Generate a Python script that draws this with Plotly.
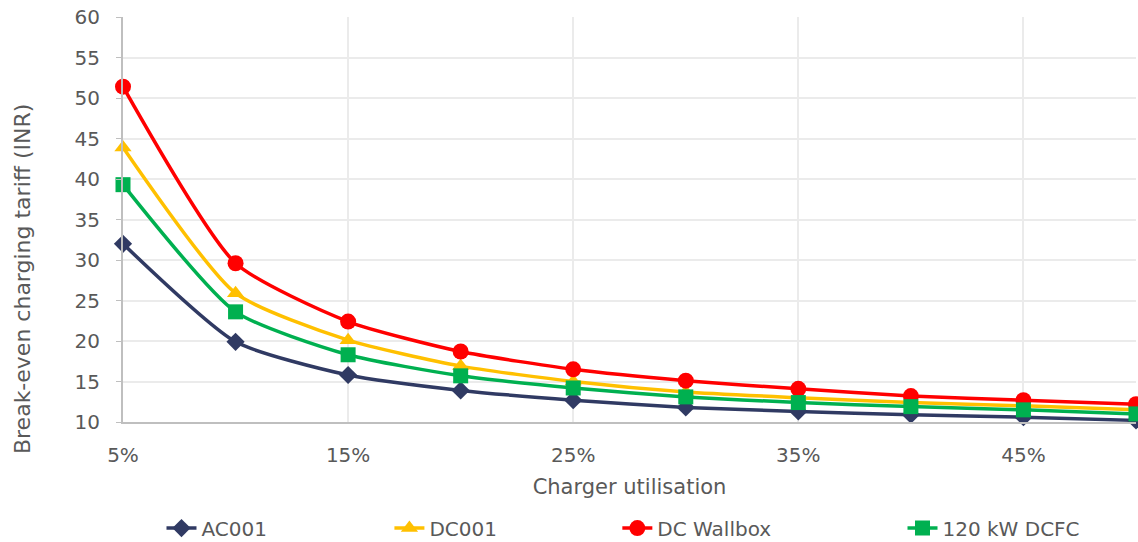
import plotly.graph_objects as go

# Charger utilisation (%) and break-even charging tariff (INR) per charger type
utilisation = [5, 10, 15, 20, 25, 30, 35, 40, 45, 50]
ac001 = [32.0, 19.9, 15.8, 13.9, 12.7, 11.8, 11.3, 10.9, 10.6, 10.2]
dc001 = [43.9, 25.9, 20.1, 16.9, 15.0, 13.7, 13.0, 12.4, 12.0, 11.5]
dc_wallbox = [51.4, 29.6, 22.4, 18.7, 16.5, 15.1, 14.1, 13.2, 12.7, 12.2]
dcfc_120kw = [39.3, 23.6, 18.3, 15.7, 14.2, 13.1, 12.4, 11.9, 11.5, 11.0]

tick_vals = [5, 15, 25, 35, 45]
tick_text = ["5%", "15%", "25%", "35%", "45%"]

# name, values, colour, marker symbol, marker size, legend id, legend x position
series = [
    ("AC001", ac001, "#303A63", "diamond", 14, "legend", 0.038),
    ("DC001", dc001, "#FFC000", "triangle-up", 15, "legend2", 0.263),
    ("DC Wallbox", dc_wallbox, "#FF0000", "circle", 16, "legend3", 0.488),
    ("120 kW DCFC", dcfc_120kw, "#00B050", "square", 15, "legend4", 0.7695),
]

font_family = "DejaVu Sans, Open Sans, sans-serif"
grey = "#595959"

fig = go.Figure()
legend_layouts = {}
for name, vals, color, symbol, size, legend_id, lx in series:
    fig.add_trace(go.Scatter(
        x=utilisation, y=vals, name=name, mode="lines+markers",
        line=dict(color=color, width=3.5, shape="spline", smoothing=0.6),
        marker=dict(symbol=symbol, size=size, color=color),
        cliponaxis=False, legend=legend_id,
    ))
    legend_layouts[legend_id] = dict(
        orientation="h", x=lx, xanchor="left", y=-0.262, yanchor="middle",
        font=dict(size=20, color=grey, family=font_family),
        bgcolor="rgba(0,0,0,0)", itemwidth=30,
    )

fig.update_layout(
    width=1138, height=542,
    margin=dict(l=123, r=2, t=17, b=120, autoexpand=False),
    paper_bgcolor="white", plot_bgcolor="white",
    font=dict(family=font_family, color=grey, size=20),
    showlegend=True,
    xaxis=dict(
        range=[5, 50], tickvals=tick_vals, ticktext=tick_text,
        showgrid=True, gridcolor="#EBEBEB", gridwidth=1.5,
        showline=True, linecolor="#BFBFBF", linewidth=2,
        ticks="", ticklabelstandoff=14,
        tickfont=dict(size=20, color=grey),
        title=dict(text="Charger utilisation",
                   font=dict(size=21, color=grey), standoff=13),
        zeroline=False,
    ),
    yaxis=dict(
        range=[10, 60], dtick=5,
        showgrid=True, gridcolor="#EBEBEB", gridwidth=1.5,
        showline=True, linecolor="#BFBFBF", linewidth=2,
        ticks="outside", ticklen=5, tickcolor="#BFBFBF",
        ticklabelstandoff=12,
        tickfont=dict(size=20, color=grey),
        zeroline=False,
    ),
    annotations=[dict(
        text="Break-even charging tariff (INR)", textangle=-90,
        xref="paper", yref="paper", x=-0.0997, y=0.353,
        xanchor="center", yanchor="middle", showarrow=False,
        font=dict(size=22, color=grey, family=font_family),
    )],
    **legend_layouts,
)

fig.write_html("out.html")
